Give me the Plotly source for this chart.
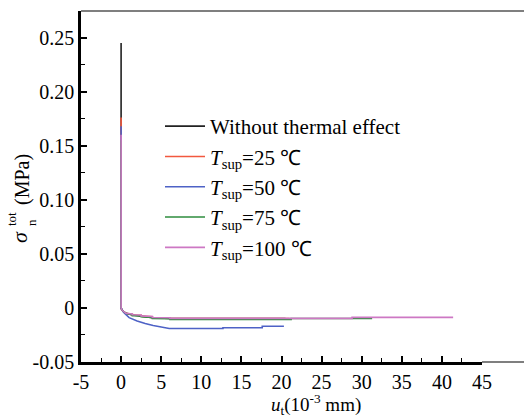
import plotly.graph_objects as go

# ---- data ----
names = ["Without thermal effect",
         "<i>T</i><sub>sup</sub>=25 ℃",
         "<i>T</i><sub>sup</sub>=50 ℃",
         "<i>T</i><sub>sup</sub>=75 ℃",
         "<i>T</i><sub>sup</sub>=100 ℃"]
colors = ["#222222", "#F2583F", "#4E62C6", "#2E8C3E", "#CD78C4"]

u_black = [0, 0, 0.1, 0.6, 1.4, 2.5, 3.9, 6.1, 12, 20.5]
s_black = [0.245, 0.0, -0.002, -0.005, -0.0065, -0.0074, -0.009, -0.0098, -0.0098, -0.0098]

u_red = [0, 0, 0.1, 0.6, 1.4, 1.4, 2.5, 2.5, 3.9, 3.9, 6.1, 6.1, 21.0]
s_red = [0.176, 0.0, -0.002, -0.005, -0.0058, -0.0066, -0.0068, -0.0076, -0.0082, -0.0091, -0.0093, -0.0099, -0.0099]

u_blue = [0, 0, 0.3, 1.0, 2.0, 3.0, 4.0, 5.0, 6.0, 12.7, 12.7, 17.6, 17.6, 20.3]
s_blue = [0.168, 0.0, -0.004, -0.009, -0.012, -0.0145, -0.0162, -0.0176, -0.019, -0.019, -0.0183, -0.0183, -0.017, -0.017]

u_green = [0, 0, 0.1, 0.6, 1.4, 1.4, 2.5, 2.5, 3.9, 3.9, 6.1, 6.1, 21.2, 21.2, 31.3]
s_green = [0.155, 0.0, -0.002, -0.005, -0.0062, -0.0071, -0.0073, -0.0082, -0.0088, -0.0097, -0.0099, -0.0106, -0.0106, -0.0098, -0.0098]

u_pink = [0, 0, 0.1, 0.6, 1.4, 1.4, 2.5, 2.5, 3.9, 3.9, 6.1, 6.1, 28.8, 28.8, 41.4]
s_pink = [0.160, 0.0, -0.002, -0.005, -0.0056, -0.0064, -0.0066, -0.0074, -0.008, -0.0089, -0.0091, -0.0097, -0.0097, -0.0087, -0.0087]

series_u = [u_black, u_red, u_blue, u_green, u_pink]
series_s = [s_black, s_red, s_blue, s_green, s_pink]

x_ticks = [-5, 0, 5, 10, 15, 20, 25, 30, 35, 40, 45]
x_tick_text = ["-5", "0", "5", "10", "15", "20", "25", "30", "35", "40", "45"]
y_ticks = [-0.05, 0, 0.05, 0.10, 0.15, 0.20, 0.25]
y_tick_text = ["-0.05", "0", "0.05", "0.10", "0.15", "0.20", "0.25"]

FONT = "Liberation Serif"

fig = go.Figure()
for nm, c, u, s in zip(names, colors, series_u, series_s):
    fig.add_trace(go.Scatter(x=u, y=s, mode="lines", name=nm,
                             line=dict(color=c, width=1.6)))

# plot area: x 81..482, y 11..362 px
L, R, T, B = 81, 42, 11, 58
W, H = 524, 420
pw, ph = W - L - R, H - T - B

def px(x):
    return (x - L) / pw

def py(y):
    return (H - B - y) / ph

fig.update_layout(
    width=W, height=H,
    margin=dict(l=L, r=R, t=T, b=B, pad=0),
    paper_bgcolor="white", plot_bgcolor="white",
    font=dict(family=FONT, size=20, color="black"),
    showlegend=True,
    legend=dict(x=px(160), y=py(106), xanchor="left", yanchor="top",
                bgcolor="rgba(0,0,0,0)", font=dict(size=21, family=FONT),
                tracegroupgap=0, itemwidth=40),
    xaxis=dict(range=[-5, 45], tickvals=x_ticks, ticktext=x_tick_text,
               ticks="inside", ticklen=6, tickwidth=1.5, tickcolor="black",
               showline=True, linecolor="black", linewidth=2.5,
               showgrid=False, zeroline=False,
               minor=dict(ticks="inside", ticklen=4, tickwidth=1.2,
                          tickcolor="black", dtick=2.5, tick0=-5, showgrid=False),
               tickfont=dict(size=20, family=FONT)),
    yaxis=dict(range=[-0.05, 0.2745], tickvals=y_ticks, ticktext=y_tick_text,
               ticks="inside", ticklen=6, tickwidth=1.5, tickcolor="black",
               showline=True, linecolor="black", linewidth=2.5,
               showgrid=False, zeroline=False,
               minor=dict(ticks="inside", ticklen=4, tickwidth=1.2,
                          tickcolor="black", dtick=0.025, tick0=0, showgrid=False),
               tickfont=dict(size=20, family=FONT)),
)

# frame: thin top line and thin extension of bottom line to the right edge
fig.add_shape(type="line", xref="paper", yref="paper", x0=0, x1=px(W + 2),
              y0=1, y1=1, line=dict(color="black", width=1.2))
fig.add_shape(type="line", xref="paper", yref="paper", x0=1, x1=px(W + 2),
              y0=0, y1=0, line=dict(color="black", width=1.2))

# y-axis title: sigma with stacked sub/superscript
ann = [
    dict(text="<i>σ</i>", x=px(19), y=py(237), size=22),
    dict(text="tot", x=px(11), y=py(219), size=13),
    dict(text="n", x=px(31), y=py(223), size=13),
    dict(text="(MPa)", x=px(22), y=py(180), size=20),
]
for a in ann:
    fig.add_annotation(text=a["text"], x=a["x"], y=a["y"], xref="paper", yref="paper",
                       showarrow=False, textangle=-90, xanchor="center", yanchor="middle",
                       font=dict(size=a["size"], family=FONT, color="black"))

fig.add_annotation(text="<i>u</i><sub>t</sub>(10<sup>-3</sup> mm)", x=px(316), y=py(404),
                   xref="paper", yref="paper", showarrow=False,
                   xanchor="center", yanchor="middle",
                   font=dict(size=19, family=FONT, color="black"))

fig.write_html("out.html", config={"displayModeBar": False},
               post_script="document.body.style.margin='0px';document.body.style.overflow='hidden';")
